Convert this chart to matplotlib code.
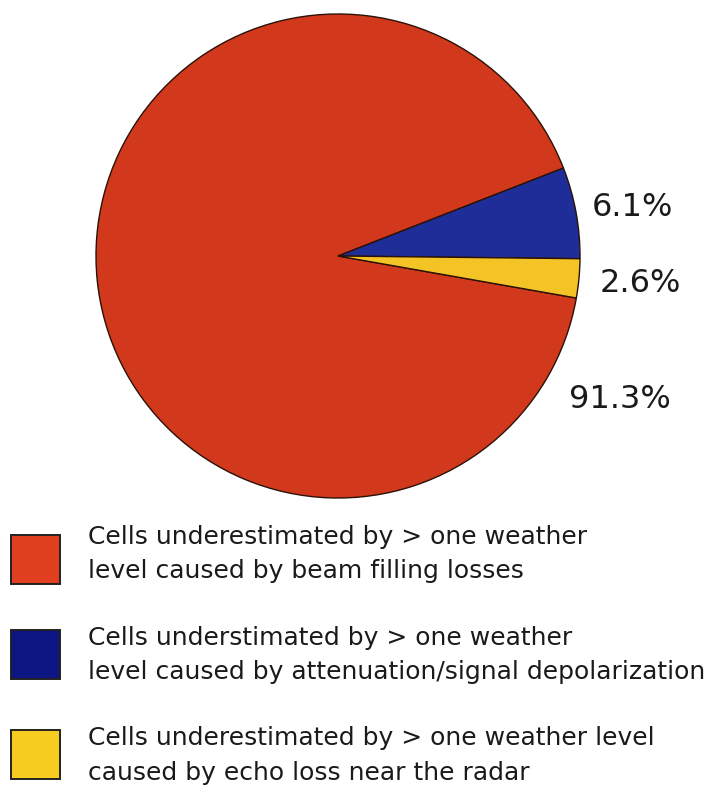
import matplotlib
matplotlib.use('Agg')
import matplotlib.pyplot as plt
from matplotlib.patches import Rectangle

plt.rcParams['font.family'] = ['DejaVu Sans']

# Share of underestimated cells by cause
shares = [91.3, 6.1, 2.6]
pie_colors = ['#d2381b', '#1f2d98', '#f4c326']
swatch_colors = ['#e0401f', '#0c1582', '#f6cc20']
legend_lines = [
    ['Cells underestimated by > one weather',
     'level caused by beam filling losses'],
    ['Cells understimated by > one weather',
     'level caused by attenuation/signal depolarization'],
    ['Cells underestimated by > one weather level',
     'caused by echo loss near the radar'],
]

W, H = 713, 785
fig = plt.figure(figsize=(W / 100, H / 100), dpi=100)
fig.patch.set_facecolor('white')

# pie axes, square in pixels
cx, cy, r = 338, 256, 242
ax = fig.add_axes([(cx - r) / W, (H - cy - r) / H, 2 * r / W, 2 * r / H])
wedges, _ = ax.pie(shares, colors=pie_colors, startangle=-10, counterclock=False,
                   radius=1.0,
                   wedgeprops=dict(edgecolor='#2a1208', linewidth=1.0))
ax.set_xlim(-1, 1)
ax.set_ylim(-1, 1)
ax.set_aspect('equal')
ax.axis('off')

# percentage labels to the right of the pie
label_pos = [(1.165, -0.595), (1.215, 0.200), (1.248, -0.113)]
for val, (lx, ly) in zip(shares, label_pos):
    ax.text(lx, ly, f'{val:.1f}%', fontsize=23, ha='center', va='center',
            color='#1a1a1a', clip_on=False)

# legend: colour swatch plus two lines of text
swatch_top = [535, 630, 730]
line_y = [(537, 571), (638, 672), (738, 773)]
for col, top, lines, ys in zip(swatch_colors, swatch_top, legend_lines, line_y):
    fig.patches.append(Rectangle((11 / W, (H - top - 49) / H), 49 / W, 49 / H,
                                 transform=fig.transFigure, facecolor=col,
                                 edgecolor='#222222', linewidth=1.4))
    for txt, y in zip(lines, ys):
        fig.text(88 / W, (H - y) / H, txt, fontsize=18, ha='left', va='center',
                 color='#1a1a1a')

fig.savefig('out.png', dpi=100)
